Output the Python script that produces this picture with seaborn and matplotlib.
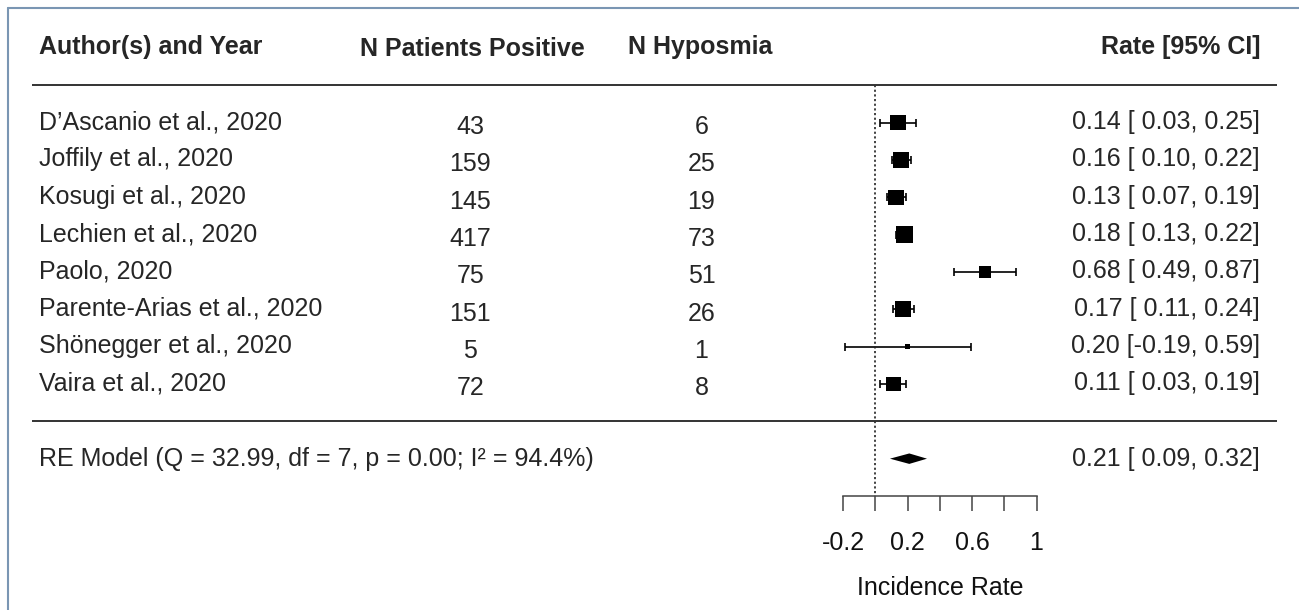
import numpy as np
import pandas as pd
import matplotlib.pyplot as plt
from matplotlib.lines import Line2D
import seaborn as sns

# study data
authors = ['D\u2019Ascanio et al., 2020', 'Joffily et al., 2020', 'Kosugi et al., 2020',
           'Lechien et al., 2020', 'Paolo, 2020', 'Parente-Arias et al., 2020',
           'Sh\u00f6negger et al., 2020', 'Vaira et al., 2020']
n_positive = [43, 159, 145, 417, 75, 151, 5, 72]
n_hyposmia = [6, 25, 19, 73, 51, 26, 1, 8]
rate = [0.14, 0.16, 0.13, 0.18, 0.68, 0.17, 0.20, 0.11]
ci_lo = [0.03, 0.10, 0.07, 0.13, 0.49, 0.11, -0.19, 0.03]
ci_hi = [0.25, 0.22, 0.19, 0.22, 0.87, 0.24, 0.59, 0.19]
# relative study weight (square size in the plot)
weight = [0.92, 0.98, 0.95, 1.0, 0.77, 0.96, 0.30, 0.89]

# random effects summary
re_est, re_lo, re_hi = 0.21, 0.09, 0.32
re_q, re_df, re_p, re_i2 = 32.99, 7, 0.00, 94.4

major_ticks = [-0.2, 0.2, 0.6, 1.0]
major_labels = ['-0.2', '0.2', '0.6', '1']
minor_ticks = [0.0, 0.4, 0.8]

headers = ['Author(s) and Year', 'N Patients Positive', 'N Hyposmia', 'Rate [95% CI]']

df = pd.DataFrame({'author': authors, 'rate': rate, 'lo': ci_lo, 'hi': ci_hi,
                   'w2': np.array(weight) ** 2})
df['row'] = np.arange(len(df))

sns.set_theme(style='white')
plt.rcParams['font.family'] = ['Liberation Sans', 'DejaVu Sans']

FS = 18
fig = plt.figure(figsize=(12.99, 6.10), dpi=100)
ax = fig.add_axes([0, 114 / 610, 1, 496 / 610])

# column positions (in rate units of the forest axis)
x_left, x_right = -5.236, 2.492
x_author, x_pos, x_hyp, x_rate = -5.192, -2.515, -1.08, 2.387

# CIs and squares
ax.errorbar(df['rate'], df['row'], xerr=[df['rate'] - df['lo'], df['hi'] - df['rate']],
            fmt='none', ecolor='black', elinewidth=1.2, capsize=2.9, capthick=1.2, zorder=2)
side = 12.0
sns.scatterplot(data=df, x='rate', y='row', size='w2',
                sizes=((min(weight) * side) ** 2, side ** 2),
                marker='s', color='black', linewidth=0, legend=False, ax=ax, zorder=3)

# summary diamond
n = len(df)
re_row = n + 1
ax.fill([re_lo, re_est, re_hi, re_est], [re_row, re_row - 0.14, re_row, re_row + 0.14],
        color='black', lw=0)

# reference line and separators
ax.vlines(0, -1, n + 2, colors='#222222', linestyles=(0, (1.3, 1.5)), lw=1.2)
ax.hlines([-1, n], x_left, x_right, colors='#333333', lw=1.4)

# table text
for i, r in df.iterrows():
    ax.text(x_author, i + 0.17, r['author'], fontsize=FS, ha='left', va='baseline')
    ax.text(x_pos, i + 0.3, str(n_positive[i]), fontsize=FS, ha='center', va='baseline')
    ax.text(x_hyp, i + 0.3, str(n_hyposmia[i]), fontsize=FS, ha='center', va='baseline')
    ax.text(x_rate, i + 0.17, f"{r['rate']:.2f} [{r['lo']:5.2f}, {r['hi']:.2f}]",
            fontsize=FS, ha='right', va='baseline')

ax.text(x_author, re_row + 0.19,
        f'RE Model (Q = {re_q:.2f}, df = {re_df}, p = {re_p:.2f}; I\u00b2 = {re_i2:.1f}%)',
        fontsize=FS, ha='left', va='baseline')
ax.text(x_rate, re_row + 0.19, f'{re_est:.2f} [{re_lo:5.2f}, {re_hi:.2f}]',
        fontsize=FS, ha='right', va='baseline')

hy = -1.85
ax.text(x_author, hy, headers[0], fontsize=FS, fontweight='bold', ha='left', va='baseline')
ax.text(-2.505, hy + 0.05, headers[1], fontsize=FS, fontweight='bold', ha='center', va='baseline')
ax.text(-1.09, hy, headers[2], fontsize=FS, fontweight='bold', ha='center', va='baseline')
ax.text(x_rate, hy, headers[3], fontsize=FS, fontweight='bold', ha='right', va='baseline')

# axes set up
ax.set_xlim(-5.434, 2.629)
ax.set_ylim(n + 2, -3.29)
for s in ['top', 'right', 'left']:
    ax.spines[s].set_visible(False)
ax.spines['bottom'].set_bounds(major_ticks[0], major_ticks[-1])
ax.spines['bottom'].set_color('#444444')
ax.spines['bottom'].set_linewidth(1.1)
ax.set_xticks(major_ticks)
ax.set_xticklabels(major_labels)
ax.set_xticks(minor_ticks, minor=True)
ax.set_yticks([])
ax.tick_params(axis='x', which='both', bottom=True, direction='out', length=10.6,
               width=1.1, color='#444444', labelsize=FS, pad=14.5, labelcolor='#111111')
ax.set_ylabel('')
ax.set_xlabel('Incidence Rate', fontsize=FS, x=940 / 1299, labelpad=15, color='#111111')
ax.patch.set_alpha(0)

# frame edge (left/top only, image is cropped)
bc = '#7a96b3'
fig.add_artist(Line2D([8 / 1299, 1], [1 - 8 / 610, 1 - 8 / 610], color=bc, lw=1.5))
fig.add_artist(Line2D([8 / 1299, 8 / 1299], [0, 1 - 8 / 610], color=bc, lw=1.5))

fig.savefig('out.png', dpi=100, facecolor='white')
